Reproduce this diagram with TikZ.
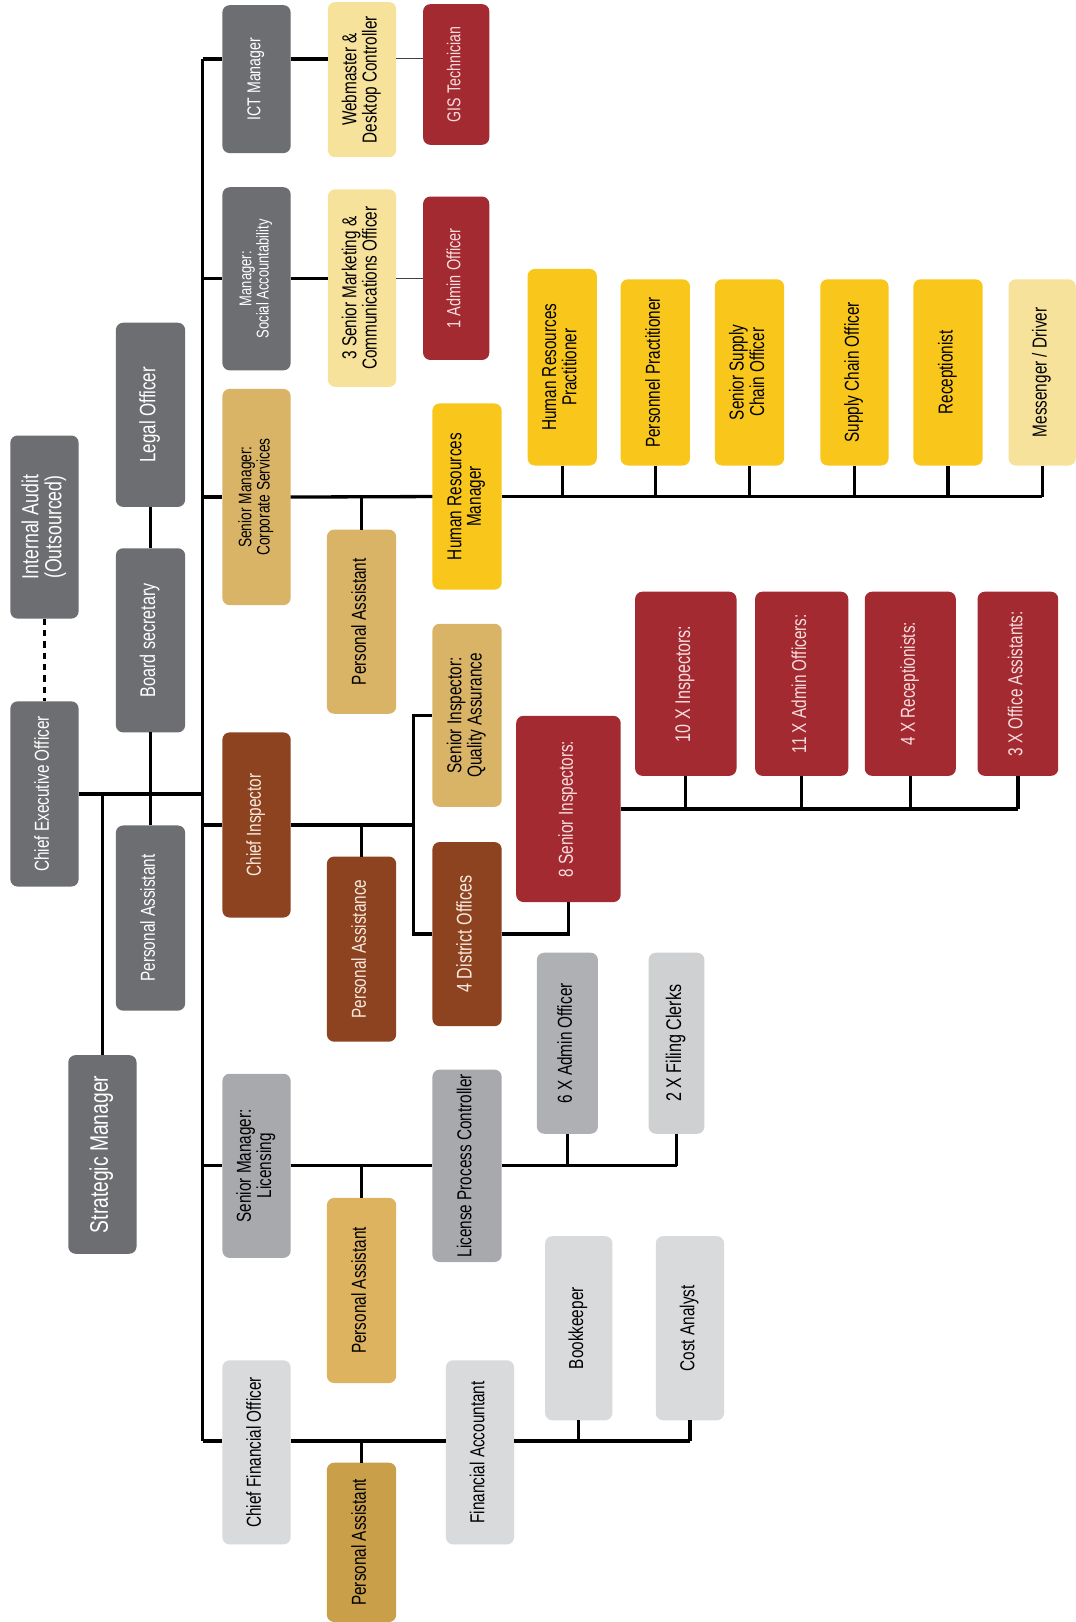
\documentclass[tikz,border=0pt]{standalone}
\usepackage{fontspec}
\setmainfont{Liberation Sans}[FakeStretch=0.76]
\usepackage{graphicx}
\definecolor{cDark}{HTML}{6D6E71}
\definecolor{cLic}{HTML}{A7A9AC}
\definecolor{cAdm}{HTML}{AEB0B3}
\definecolor{cFil}{HTML}{CFD0D2}
\definecolor{cLt}{HTML}{D9DADB}
\definecolor{cPale}{HTML}{F6E29A}
\definecolor{cYel}{HTML}{F9C71C}
\definecolor{cTan}{HTML}{D9B466}
\definecolor{cTanB}{HTML}{DDB35F}
\definecolor{cTanC}{HTML}{C9A049}
\definecolor{cBrn}{HTML}{8D4320}
\definecolor{cRed}{HTML}{A32A31}
\definecolor{cRedTxt}{HTML}{F6DEDF}
\definecolor{cBrnTxt}{HTML}{F8EADF}
\newcommand{\vt}[1]{\rotatebox{90}{\begin{tabular}{@{}c@{}}#1\end{tabular}}}
\newcommand{\fs}[2]{\fontsize{#1}{#2}\selectfont}
\newcommand{\bx}[7]{\node[#2, minimum width={(#5)-(#3)}, minimum height={(#6)-(#4)}] (#1) at (#3,#4) {\vt{#7}};}
\tikzset{
  box/.style={rounded corners=7pt, inner sep=0pt, outer sep=0pt, anchor=north west, font=\fs{19.5}{18.5}},
  sDark/.style={box, fill=cDark, text=white},
  sLic/.style={box, fill=cLic, text=black},
  sAdm/.style={box, fill=cAdm, text=black},
  sFil/.style={box, fill=cFil, text=black},
  sLt/.style={box, fill=cLt, text=black},
  sPale/.style={box, fill=cPale, text=black},
  sYel/.style={box, fill=cYel, text=black},
  sTan/.style={box, fill=cTan, text=black},
  sTanB/.style={box, fill=cTanB, text=black},
  sTanC/.style={box, fill=cTanC, text=black},
  sBrn/.style={box, fill=cBrn, text=cBrnTxt},
  sRed/.style={box, fill=cRed, text=cRedTxt},
  ln/.style={line width=3.2pt, draw=black, line join=miter},
  thinln/.style={line width=1pt, draw=black!75},
}
\begin{document}
\begin{tikzpicture}[x=1pt, y=-1pt]
\useasboundingbox[fill=white] (0,0) rectangle (1040,1568);
% left column
\bx{ia}{sDark, font=\fs{22.5}{20}}{10}{421}{76}{598}{Internal Audit\\(Outsourced)}
\bx{ceo}{sDark}{10}{678}{76}{857}{Chief Executive Officer}
\bx{legal}{sDark, font=\fs{21.5}{20}}{112}{312}{179}{490}{Legal Officer}
\bx{board}{sDark, font=\fs{20.5}{20}}{112}{530}{179}{708}{Board secretary}
\bx{pa0}{sDark}{112}{798}{179}{977}{Personal Assistant}
\bx{sm}{sDark, font=\fs{24.5}{24}}{66}{1020}{132}{1212}{Strategic Manager}
% ICT and social
\bx{ict}{sDark, font=\fs{18}{17}}{215}{5}{281}{148}{ICT Manager}
\bx{web}{sPale}{317}{2}{383}{152}{Webmaster \&\\Desktop Controller}
\bx{gis}{sRed, font=\fs{18}{17}}{409}{4}{473}{140}{GIS Technician}
\bx{soc}{sDark, font=\fs{16.5}{16}}{215}{181}{281}{358}{Manager:\\Social Accountability}
\bx{mkt}{sPale}{317}{183}{383}{374}{3 Senior Marketing \&\\Communications Officer}
\bx{admA}{sRed, font=\fs{18.5}{18}}{409}{190}{473}{348}{1 Admin Officer}
% corporate services
\bx{corp}{sTan, font=\fs{17.5}{17}}{215}{376}{281}{585}{Senior Manager:\\Corporate Services}
\bx{paA}{sTan}{316}{512}{383}{690}{Personal Assistant}
\bx{hrm}{sYel}{418}{390}{485}{570}{Human Resources\\Manager}
\bx{hrp}{sYel}{510}{260}{577}{450}{Human Resources\\Practitioner}
\bx{pp}{sYel}{600}{270}{667}{450}{Personnel Practitioner}
\bx{ssc}{sYel}{691}{270}{758}{450}{Senior Supply\\Chain Officer}
\bx{sco}{sYel}{793}{270}{859}{450}{Supply Chain Officer}
\bx{rec}{sYel}{883}{270}{950}{450}{Receptionist}
\bx{msg}{sPale}{975}{270}{1040}{450}{Messenger / Driver}
% inspectorate
\bx{ci}{sBrn}{215}{708}{281}{887}{Chief Inspector}
\bx{paB}{sBrn}{316}{828}{383}{1007}{Personal Assistance}
\bx{qa}{sTan}{418}{603}{485}{780}{Senior Inspector:\\Quality Assurance}
\bx{dist}{sBrn, font=\fs{20.5}{20}}{418}{814}{485}{992}{4 District Offices}
\bx{sie}{sRed}{499}{692}{600}{872}{8 Senior Inspectors:}
\bx{ins}{sRed, font=\fs{20.5}{20}}{614}{572}{712}{750}{10 X Inspectors:}
\bx{aoe}{sRed}{730}{572}{820}{750}{11 X Admin Officers:}
\bx{rcp}{sRed}{836}{572}{924}{750}{4 X Receptionists:}
\bx{oas}{sRed}{945}{572}{1023}{750}{3 X Office Assistants:}
% licensing
\bx{lic}{sLic}{215}{1038}{281}{1216}{Senior Manager:\\Licensing}
\bx{paC}{sTanB}{316}{1158}{383}{1337}{Personal Assistant}
\bx{lpc}{sLic}{418}{1034}{485}{1220}{License Process Controller}
\bx{admS}{sAdm}{519}{921}{578}{1096}{6 X Admin Officer}
\bx{fc}{sFil, font=\fs{20.5}{20}}{627}{921}{681}{1096}{2 X Filing Clerks}
% finance
\bx{cfo}{sLt}{215}{1315}{281}{1493}{Chief Financial Officer}
\bx{paD}{sTanC}{316}{1414}{383}{1568}{Personal Assistant}
\bx{fa}{sLt}{431}{1315}{497}{1493}{Financial Accountant}
\bx{bk}{sLt}{527}{1195}{592}{1373}{Bookkeeper}
\bx{ca}{sLt}{634}{1195}{700}{1373}{Cost Analyst}
% coordinates
\coordinate (tr) at (196,0);
\coordinate (ictc) at (196,57);
\coordinate (cfoc) at (196,1393);
\coordinate (cix) at (400,0);
% connectors: left column
\draw[ln, dash pattern=on 6pt off 5pt] (ia.south) -- (ceo.north);
\draw[ln] (ceo.east) -- (ceo.east -| tr);
\draw[ln] (legal.south) -- (board.north);
\draw[ln] (board.south) -- (pa0.north);
\draw[ln] (ceo.east -| sm.north) -- (sm.north);
% trunk
\draw[ln] (ictc) -- (cfoc);
% ICT
\draw[ln] (ictc) -- (ictc -| ict.west);
\draw[ln] (ictc -| ict.east) -- (ictc -| web.west);
\draw[thinln] (ictc -| web.east) -- (ictc -| gis.west);
% social
\draw[ln] (soc.west -| tr) -- (soc.west);
\draw[ln] (soc.east) -- (soc.east -| mkt.west);
\draw[thinln] (soc.east -| mkt.east) -- (soc.east -| admA.west);
% corporate
\draw[ln] (corp.west -| tr) -- (corp.west);
\draw[ln] (corp.east) -- (hrm.west);
\draw[ln] (corp.east -| paA.north) -- (paA.north);
\draw[ln] (hrm.east) -- (hrm.east -| msg.south);
\foreach \n in {hrp,pp,ssc,sco,rec,msg} \draw[ln] (\n.south) -- (\n.south |- hrm.east);
% inspectorate
\draw[ln] (ci.west -| tr) -- (ci.west);
\draw[ln] (ci.east) -- (ci.east -| cix);
\draw[ln] (ci.east -| paB.north) -- (paB.north);
\draw[ln] (qa.west) -- (qa.west -| cix) -- (dist.west -| cix) -- (dist.west);
\draw[ln] (dist.east) -| (sie.south);
\draw[ln] (sie.east) -- (sie.east -| oas.south);
\foreach \n in {ins,aoe,rcp,oas} \draw[ln] (\n.south) -- (\n.south |- sie.east);
% licensing
\draw[ln] (lic.west -| tr) -- (lic.west);
\draw[ln] (lic.east) -- (lpc.west);
\draw[ln] (lic.east -| paC.north) -- (paC.north);
\draw[ln] (lpc.east) -- (lpc.east -| fc.south);
\foreach \n in {admS,fc} \draw[ln] (\n.south) -- (\n.south |- lpc.east);
% finance
\draw[ln] (cfoc) -- (cfoc -| cfo.west);
\draw[ln] (cfoc -| cfo.east) -- (cfoc -| fa.west);
\draw[ln] (cfoc -| paD.north) -- (paD.north);
\draw[ln] (cfoc -| fa.east) -- (cfoc -| ca.south);
\foreach \n in {bk,ca} \draw[ln] (\n.south) -- (\n.south |- cfoc);
\end{tikzpicture}
\end{document}
